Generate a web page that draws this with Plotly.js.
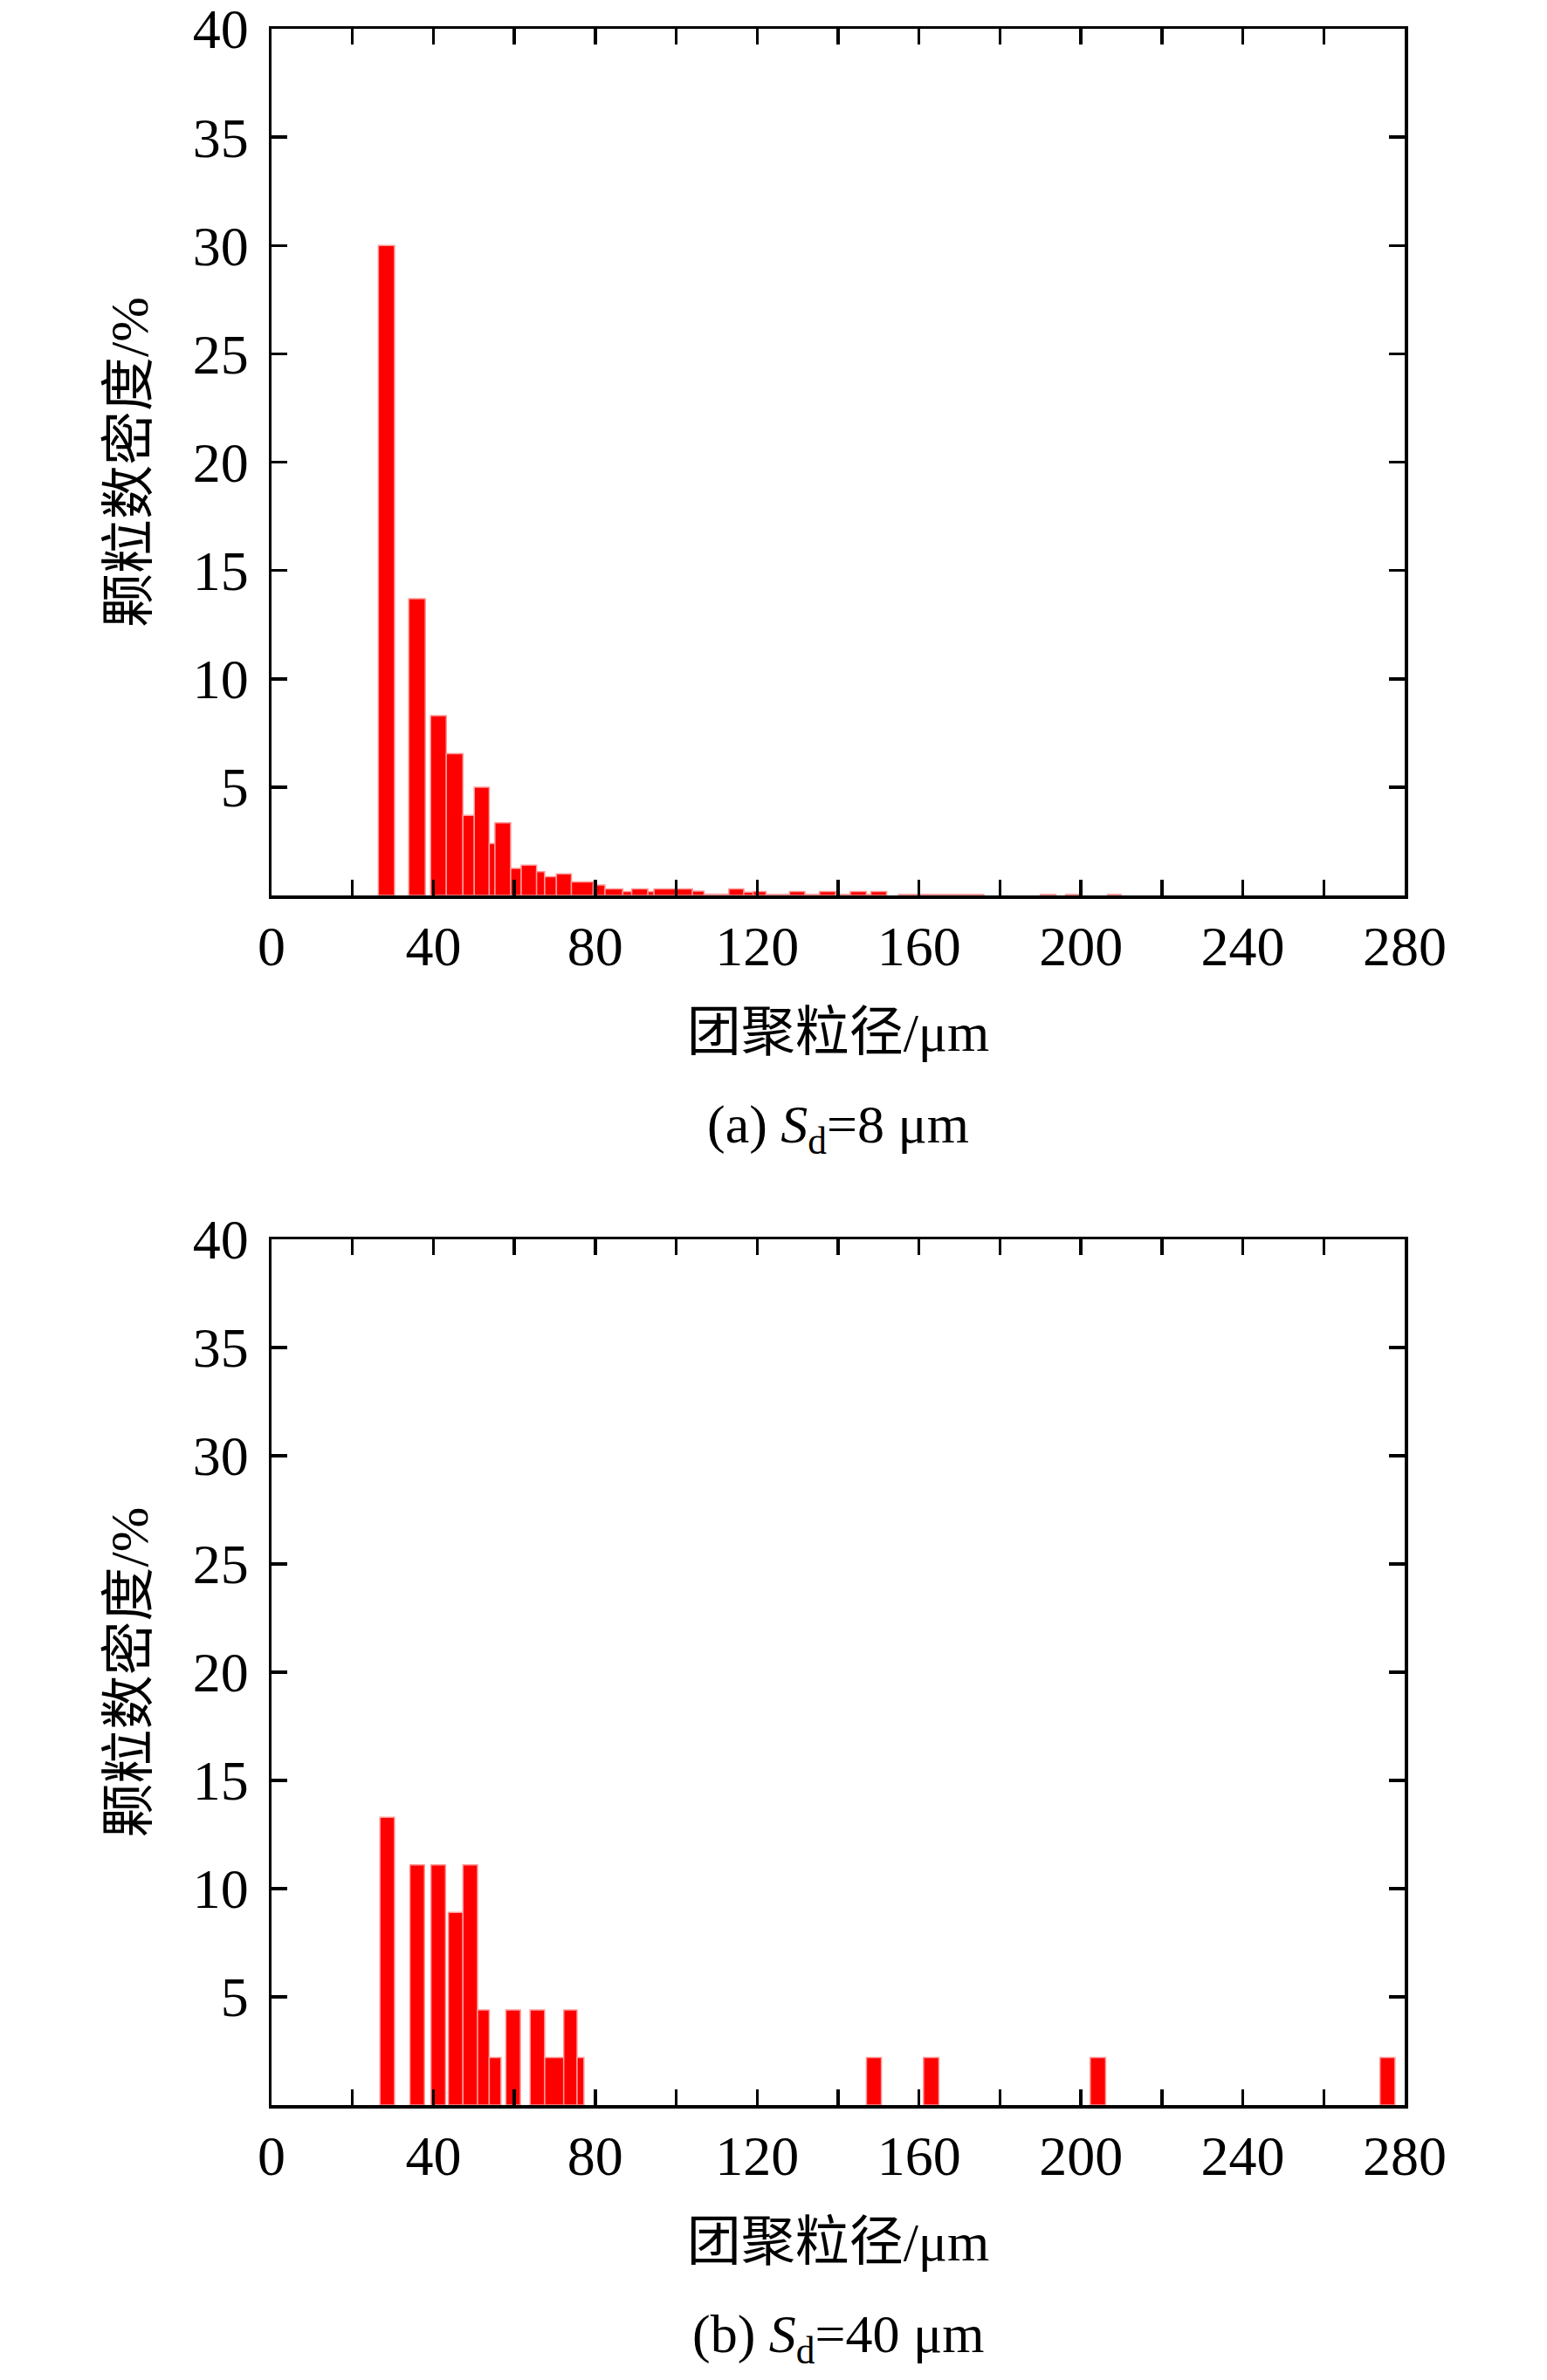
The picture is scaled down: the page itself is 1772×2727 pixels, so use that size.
<!DOCTYPE html>
<html>
<head>
<meta charset="utf-8">
<script src="https://cdn.plot.ly/plotly-3.0.1.min.js"></script>
<style>html,body{margin:0;padding:0;background:#fff;}#chart{width:1772px;height:2727px;}</style>
</head>
<body>
<div id="chart"></div>
<script>
// Panel (a) S_d = 8 um : bin edges (um) and number density (%)
var binLoA = [26.4, 33.9, 39.3, 43.2, 47.3, 50.1, 53.8, 55.2, 59.1, 61.7, 65.5, 67.5, 70.4, 74.1, 79.5, 82.4, 86.8, 89.0, 93.0, 94.5, 100.0, 104.0, 106.9, 113.0, 116.7, 119.0, 122.2, 128.0, 131.8, 135.4, 139.4, 143.0, 147.0, 148.1, 155.0, 160.0, 190.0, 196.2, 206.6];
var binHiA = [30.4, 38.0, 43.2, 47.3, 50.1, 53.8, 55.2, 59.1, 61.7, 65.5, 67.5, 70.4, 74.1, 79.5, 82.4, 86.8, 89.0, 93.0, 94.5, 100.0, 104.0, 106.9, 113.0, 116.7, 119.0, 122.2, 128.0, 131.8, 135.4, 139.4, 143.0, 147.0, 148.1, 152.0, 160.0, 176.0, 193.8, 199.5, 209.9];
var densA  = [30.0, 13.7, 8.3, 6.55, 3.7, 5.0, 2.4, 3.35, 1.25, 1.4, 1.1, 0.87, 1.0, 0.62, 0.48, 0.3, 0.18, 0.3, 0.18, 0.3, 0.3, 0.2, 0.06, 0.3, 0.15, 0.18, 0.05, 0.18, 0.05, 0.18, 0.05, 0.18, 0.05, 0.18, 0.05, 0.05, 0.05, 0.05, 0.05];

// Panel (b) S_d = 40 um
var binLoB = [26.8, 34.2, 39.4, 43.7, 47.3, 50.9, 53.8, 57.9, 63.9, 67.5, 72.2, 75.5, 147.0, 161.1, 202.3, 273.9];
var binHiB = [30.4, 37.8, 43.0, 47.3, 50.9, 53.8, 56.7, 61.5, 67.5, 72.2, 75.5, 77.2, 150.7, 164.9, 206.1, 277.6];
var densB  = [13.3, 11.1, 11.1, 8.9, 11.1, 4.4, 2.2, 4.4, 4.4, 2.2, 4.4, 2.2, 2.2, 2.2, 2.2, 2.2];

var xTickVals = [0, 40, 80, 120, 160, 200, 240, 280];
var xTickText = ['0', '40', '80', '120', '160', '200', '240', '280'];
var yTickVals = [5, 10, 15, 20, 25, 30, 35, 40];
var yTickText = ['5', '10', '15', '20', '25', '30', '35', '40'];

var xTitle = '团聚粒径/μm';
var yTitle = '颗粒数密度/%';
var captionA = '(a) <i>S</i><sub>d</sub>=8 μm';
var captionB = '(b) <i>S</i><sub>d</sub>=40 μm';

function centers(lo, hi) { return lo.map(function (v, i) { return (v + hi[i]) / 2; }); }
function widths(lo, hi) { return lo.map(function (v, i) { return hi[i] - v; }); }

var FONT = 'Liberation Serif, "Times New Roman", "Noto Sans CJK SC", serif';
var barStyle = {color: '#ff0000', line: {color: '#ff9a9a', width: 1.5}};

var traces = [
  {type: 'bar', x: centers(binLoA, binHiA), y: densA, width: widths(binLoA, binHiA), marker: barStyle, xaxis: 'x', yaxis: 'y', hoverinfo: 'skip'},
  {type: 'bar', x: centers(binLoB, binHiB), y: densB, width: widths(binLoB, binHiB), marker: barStyle, xaxis: 'x2', yaxis: 'y2', hoverinfo: 'skip'}
];

var W = 1772, H = 2727;
var xDom = [311 / W, 1609 / W];
var yDomA = [1 - 1026 / H, 1 - 33 / H];
var yDomB = [1 - 2412 / H, 1 - 1420 / H];

function xAxis(anchor) {
  return {
    domain: xDom, anchor: anchor, range: [0, 280], fixedrange: true,
    tickmode: 'array', tickvals: xTickVals, ticktext: xTickText,
    ticks: 'inside', ticklen: 18, tickwidth: 3.5, tickcolor: '#000',
    minor: {dtick: 20, tick0: 0, ticks: 'inside', ticklen: 18, tickwidth: 3.5, tickcolor: '#000', showgrid: false},
    showline: true, linewidth: 3.5, linecolor: '#000', mirror: 'ticks',
    showgrid: false, zeroline: false,
    tickfont: {family: FONT, size: 64, color: '#000'},
    ticklabelstandoff: 0, ticklabeloverflow: 'allow',
    title: {text: xTitle, font: {family: FONT, size: 62, color: '#000'}, standoff: 42}
  };
}
function yAxis(anchor, dom) {
  return {
    domain: dom, anchor: anchor, range: [0, 40], fixedrange: true,
    tickmode: 'array', tickvals: yTickVals, ticktext: yTickText,
    ticks: 'inside', ticklen: 18, tickwidth: 3.5, tickcolor: '#000',
    showline: true, linewidth: 3.5, linecolor: '#000', mirror: 'ticks',
    showgrid: false, zeroline: false,
    tickfont: {family: FONT, size: 64, color: '#000'},
    ticklabelstandoff: 10, ticklabeloverflow: 'allow',
    title: {text: yTitle, font: {family: FONT, size: 62, color: '#000'}, standoff: 32}
  };
}

var layout = {
  width: W, height: H,
  margin: {l: 0, r: 0, t: 0, b: 0},
  paper_bgcolor: '#fff', plot_bgcolor: '#fff',
  showlegend: false, hovermode: false,
  font: {family: FONT, color: '#000'},
  xaxis: xAxis('y'), yaxis: yAxis('x', yDomA),
  xaxis2: xAxis('y2'), yaxis2: yAxis('x2', yDomB),
  annotations: [
    {text: captionA, xref: 'paper', yref: 'paper', x: 960 / W, y: 1 - 1292 / H, xanchor: 'center', yanchor: 'middle', showarrow: false, font: {family: FONT, size: 62, color: '#000'}},
    {text: captionB, xref: 'paper', yref: 'paper', x: 960 / W, y: 1 - 2678 / H, xanchor: 'center', yanchor: 'middle', showarrow: false, font: {family: FONT, size: 62, color: '#000'}}
  ]
};

Plotly.newPlot('chart', traces, layout, {staticPlot: true, displayModeBar: false});
</script>
</body>
</html>
